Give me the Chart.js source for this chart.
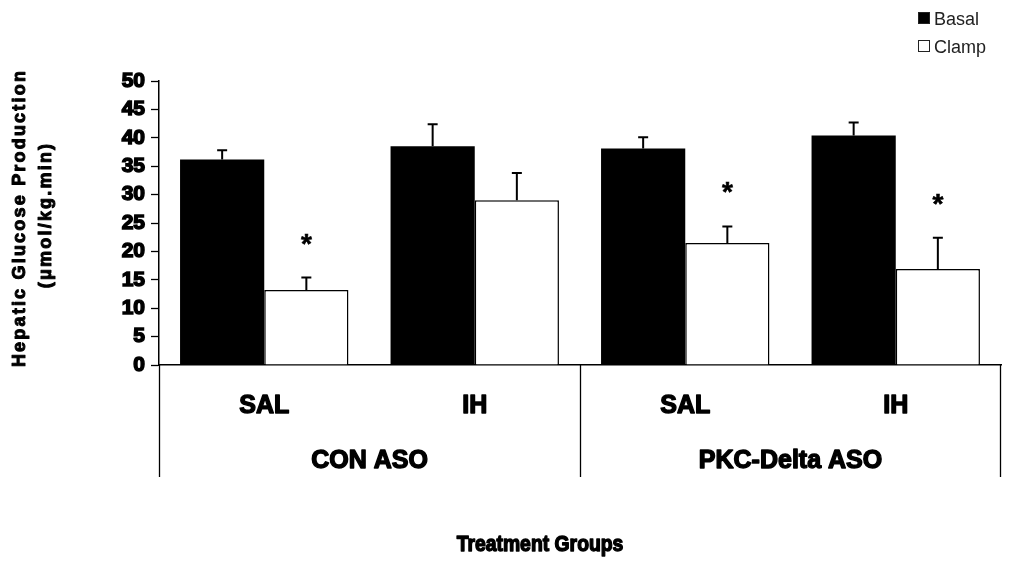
<!DOCTYPE html>
<html>
<head>
<meta charset="utf-8">
<script src="https://cdn.jsdelivr.net/npm/chart.js@4/dist/chart.umd.min.js"></script>
<style>
  html, body { margin: 0; padding: 0; background: #ffffff; }
  #wrap { width: 1018px; height: 563px; position: relative; }
</style>
</head>
<body>
<div id="wrap"><canvas id="chart" width="1018" height="563"></canvas></div>
<script>
// Hepatic glucose production, basal vs clamp, by treatment group
const categories = ['SAL', 'IH', 'SAL', 'IH'];
const groupLabels = ['CON ASO', 'PKC-Delta ASO'];
const groupSpan = 2; // sub-categories per group
const seriesNames = ['Basal', 'Clamp'];
const basal = [36.2, 38.5, 38.1, 40.4];
const basalErr = [1.6, 3.9, 2.0, 2.3];
const clamp = [13.2, 29.0, 21.5, 16.9];
const clampErr = [2.2, 4.8, 2.9, 5.5];
const clampSignificant = [true, false, true, true];
const yMin = 0, yMax = 50, yStep = 5;
const yTitle = ['Hepatic Glucose Production', '(\u03bcmol/kg.min)'];
const xTitle = 'Treatment Groups';

const FONT = '"Liberation Sans", Arial, sans-serif';

function heavyText(ctx, text, x, y, size, align, sx, weight) {
  ctx.save();
  ctx.font = 'bold ' + size + 'px ' + FONT;
  ctx.fillStyle = '#000';
  ctx.strokeStyle = '#000';
  ctx.lineWidth = weight || 1.4;
  ctx.lineJoin = 'round';
  ctx.textAlign = align || 'center';
  ctx.textBaseline = 'middle';
  ctx.translate(x, y);
  ctx.scale(sx || 1, 1);
  ctx.fillText(text, 0, 0);
  ctx.strokeText(text, 0, 0);
  ctx.restore();
}

const decorations = {
  id: 'decorations',
  afterDatasetsDraw(chart) {
    const ctx = chart.ctx;
    const area = chart.chartArea;
    const xs = chart.scales.x;
    const ys = chart.scales.y;
    const errs = [basalErr, clampErr];

    // error bars (upper whisker only)
    ctx.save();
    ctx.strokeStyle = '#000';
    ctx.lineWidth = 2;
    chart.data.datasets.forEach((ds, di) => {
      const meta = chart.getDatasetMeta(di);
      meta.data.forEach((bar, i) => {
        const top = ys.getPixelForValue(ds.data[i] + errs[di][i]);
        ctx.beginPath();
        ctx.moveTo(bar.x, bar.y);
        ctx.lineTo(bar.x, top);
        ctx.moveTo(bar.x - 5, top);
        ctx.lineTo(bar.x + 5, top);
        ctx.stroke();
      });
    });
    ctx.restore();

    // significance markers above clamp bars
    const clampMeta = chart.getDatasetMeta(1);
    clampMeta.data.forEach((bar, i) => {
      if (!clampSignificant[i]) return;
      const top = ys.getPixelForValue(clamp[i] + clampErr[i]);
      ctx.save();
      ctx.font = 'bold 28px ' + FONT;
      ctx.fillStyle = '#000';
      ctx.strokeStyle = '#000';
      ctx.lineWidth = 0.6;
      ctx.textAlign = 'center';
      ctx.textBaseline = 'alphabetic';
      ctx.fillText('*', bar.x, top - 41 + 16);
      ctx.strokeText('*', bar.x, top - 41 + 16);
      ctx.restore();
    });

    // group separators below the axis
    const bottom = area.bottom;
    const lineEnd = 477;
    const step = (area.right - area.left) / categories.length;
    ctx.save();
    ctx.strokeStyle = '#000';
    ctx.lineWidth = 1.3;
    for (let g = 0; g <= groupLabels.length; g++) {
      const x = Math.round(area.left + g * groupSpan * step) + (g === groupLabels.length ? -0.5 : 0.5);
      ctx.beginPath();
      ctx.moveTo(x, bottom);
      ctx.lineTo(x, lineEnd);
      ctx.stroke();
    }
    ctx.restore();

    // category labels
    categories.forEach((c, i) => {
      heavyText(ctx, c, xs.getPixelForValue(i), 406, 25, 'center', 1);
    });
    // group labels
    groupLabels.forEach((g, gi) => {
      const x0 = xs.getPixelForValue(gi * groupSpan);
      const x1 = xs.getPixelForValue(gi * groupSpan + groupSpan - 1);
      heavyText(ctx, g, (x0 + x1) / 2, 461, 25, 'center', 1);
    });
    // x axis title
    heavyText(ctx, xTitle, 540, 545, 22, 'center', 0.88);

    // y axis title (rotated, two lines)
    ctx.save();
    ctx.font = 'bold 18px ' + FONT;
    ctx.fillStyle = '#000';
    ctx.strokeStyle = '#000';
    ctx.lineWidth = 1;
    ctx.lineJoin = 'round';
    ctx.textAlign = 'center';
    ctx.textBaseline = 'middle';
    ctx.letterSpacing = '2.2px';
    ctx.translate(20, 218);
    ctx.rotate(-Math.PI / 2);
    ctx.fillText(yTitle[0], 0, 0);
    ctx.strokeText(yTitle[0], 0, 0);
    ctx.fillText(yTitle[1], 3, 26);
    ctx.strokeText(yTitle[1], 3, 26);
    ctx.restore();

    // legend
    ctx.save();
    ctx.font = '18px ' + FONT;
    ctx.textBaseline = 'alphabetic';
    ctx.textAlign = 'left';
    chart.data.datasets.forEach((ds, di) => {
      const y = 12 + di * 28;
      ctx.fillStyle = ds.backgroundColor;
      ctx.fillRect(918.5, y + 0.5, 11, 11);
      ctx.strokeStyle = '#222';
      ctx.lineWidth = 1;
      ctx.strokeRect(918.5, y + 0.5, 11, 11);
      ctx.fillStyle = '#222';
      ctx.fillText(ds.label, 934, y + 13);
    });
    ctx.restore();
  }
};

new Chart(document.getElementById('chart'), {
  type: 'bar',
  data: {
    labels: categories,
    datasets: [
      {
        label: seriesNames[0],
        data: basal,
        backgroundColor: '#000000',
        borderColor: '#000000',
        borderWidth: 0,
        categoryPercentage: 0.8,
        barPercentage: 1.0
      },
      {
        label: seriesNames[1],
        data: clamp,
        backgroundColor: '#ffffff',
        borderColor: '#000000',
        borderWidth: 1.5,
        borderSkipped: 'start',
        categoryPercentage: 0.8,
        barPercentage: 1.0
      }
    ]
  },
  options: {
    responsive: false,
    animation: false,
    layout: { padding: { top: 81, right: 17, bottom: 198, left: 0 } },
    plugins: {
      legend: { display: false },
      tooltip: { enabled: false }
    },
    scales: {
      x: {
        type: 'category',
        offset: true,
        grid: { display: false },
        border: { display: true, color: '#000', width: 1.5 },
        ticks: { display: false },
        afterFit(scale) { scale.height = 0; }
      },
      y: {
        min: yMin,
        max: yMax,
        grid: { drawOnChartArea: false, color: '#000', tickLength: 8, tickWidth: 1.3 },
        border: { display: true, color: '#000', width: 1.5 },
        ticks: {
          stepSize: yStep,
          color: '#000',
          padding: 6,
          textStrokeColor: '#000',
          textStrokeWidth: 1.5,
          font: { family: FONT, size: 21, weight: 'bold' }
        },
        afterFit(scale) { scale.width = 159; }
      }
    }
  },
  plugins: [decorations]
});
</script>
</body>
</html>
